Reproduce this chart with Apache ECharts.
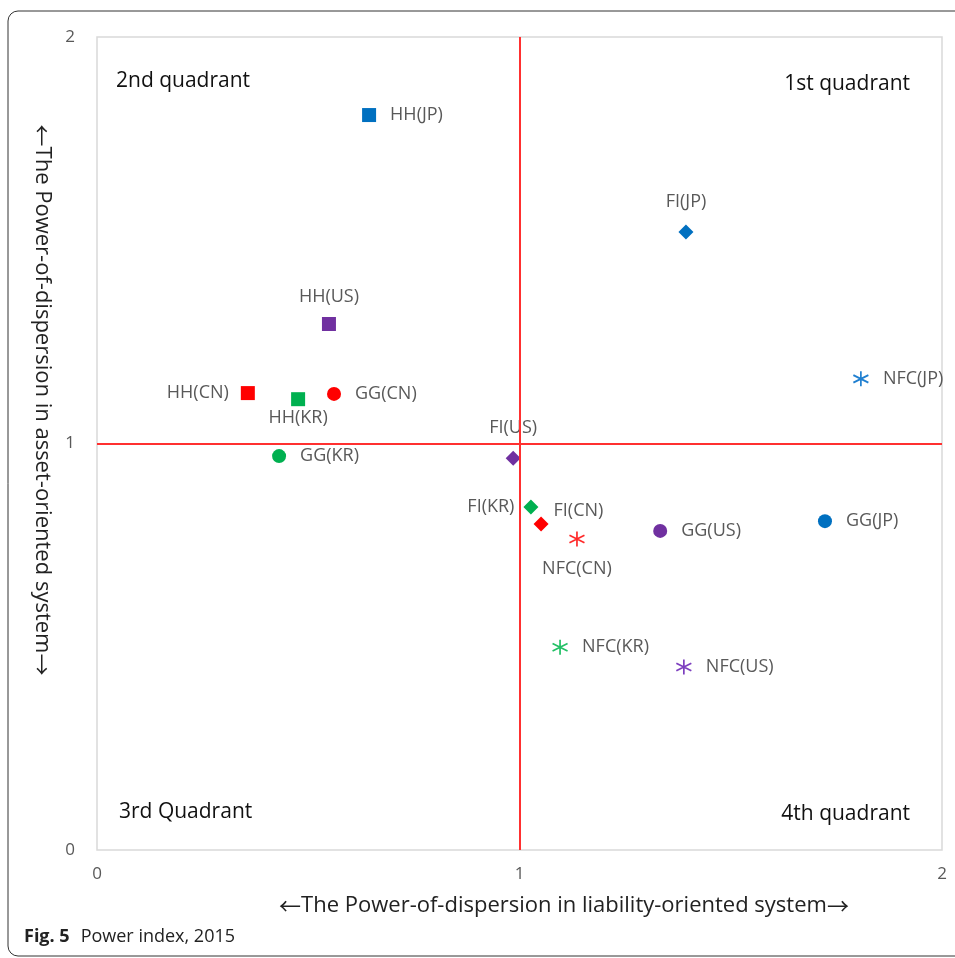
<!DOCTYPE html>
<html>
<head>
<meta charset="utf-8">
<script src="https://cdn.jsdelivr.net/npm/echarts@6/dist/echarts.min.js"></script>
<style>
html, body { margin: 0; padding: 0; background: #fff; }
#chart { width: 955px; height: 958px; }
</style>
</head>
<body>
<div id="chart"></div>
<script>
// order of every array: CN, JP, US, KR
var countries = ['CN', 'JP', 'US', 'KR'];

var hhX = [0.357, 0.644, 0.549, 0.476];
var hhY = [1.124, 1.808, 1.294, 1.109];
var ggX = [0.561, 1.723, 1.333, 0.431];
var ggY = [1.122, 0.809, 0.785, 0.969];
var fiX = [1.051, 1.394, 0.985, 1.027];
var fiY = [0.802, 1.520, 0.964, 0.844];
var nfcX = [1.136, 1.808, 1.389, 1.096];
var nfcY = [0.765, 1.159, 0.450, 0.499];

var xTicks = [0, 1, 2];
var yTicks = [0, 1, 2];

var colors = { CN: '#ff0000', JP: '#0070c0', US: '#7030a0', KR: '#00b050' };
var starColors = { CN: '#ff2a2a', JP: '#1f7fd0', US: '#7d3fbf', KR: '#22c065' };

var font = '"Open Sans", "Noto Sans", sans-serif';
var arrowFont = '"Noto Sans CJK JP", "DejaVu Sans", sans-serif';

// label placement per point (CN, JP, US, KR)
var hhPos = [
  { position: 'left', distance: 12 },
  { position: 'right', distance: 14 },
  { position: 'top', distance: 11 },
  { position: 'bottom', distance: 3 }
];
var ggPos = [
  { position: 'right', distance: 14 },
  { position: 'right', distance: 14 },
  { position: 'right', distance: 14 },
  { position: 'right', distance: 14 }
];
var fiPos = [
  { position: 'right', distance: 5, offset: [0, -13] },
  { position: 'top', distance: 14 },
  { position: 'top', distance: 14 },
  { position: 'left', distance: 9 }
];
var nfcPos = [
  { position: 'bottom', distance: 11 },
  { position: 'right', distance: 12 },
  { position: 'right', distance: 12 },
  { position: 'right', distance: 12 }
];

function makeSeries(prefix, xs, ys, pos, symbol, size, star) {
  var data = countries.map(function (c, i) {
    var item = {
      name: prefix + '(' + c + ')',
      value: [xs[i], ys[i]],
      label: pos[i]
    };
    if (star) {
      item.itemStyle = { color: 'none', borderColor: starColors[c], borderWidth: 1.7, opacity: 1 };
    } else {
      item.itemStyle = { color: colors[c], opacity: 1 };
    }
    return item;
  });
  return {
    type: 'scatter',
    name: prefix,
    symbol: symbol,
    symbolSize: size,
    data: data,
    label: {
      show: true,
      formatter: '{b}',
      color: '#595959',
      fontSize: 18,
      fontFamily: font
    }
  };
}

var series = [
  makeSeries('HH', hhX, hhY, hhPos, 'rect', 14, false),
  makeSeries('GG', ggX, ggY, ggPos, 'circle', 14, false),
  makeSeries('FI', fiX, fiY, fiPos, 'diamond', [15, 15], false),
  makeSeries('NFC', nfcX, nfcY, nfcPos, 'path://M5,0L5,10M0.7,2.5L9.3,7.5M0.7,7.5L9.3,2.5', 15, true)
];

series[0].markLine = {
  silent: true,
  symbol: 'none',
  label: { show: false },
  lineStyle: { color: '#ff3030', width: 2, type: 'solid', opacity: 1 },
  data: [{ xAxis: 1 }, { yAxis: 1 }]
};

var titleRich = {
  a: { fontFamily: arrowFont, fontSize: 22, fill: '#222' },
  t: { fontFamily: font, fontSize: 22, fill: '#222' }
};

var chart = echarts.init(document.getElementById('chart'));
chart.setOption({
  animation: false,
  backgroundColor: '#fff',
  grid: {
    left: 97, top: 37, right: 13, bottom: 108,
    show: true, borderColor: '#d9d9d9', borderWidth: 1.5
  },
  xAxis: {
    type: 'value',
    min: xTicks[0], max: xTicks[xTicks.length - 1], interval: 1,
    axisLine: { show: false },
    axisTick: { show: false },
    splitLine: { show: false },
    axisLabel: { color: '#595959', fontSize: 17, fontFamily: font, margin: 16 }
  },
  yAxis: {
    type: 'value',
    min: yTicks[0], max: yTicks[yTicks.length - 1], interval: 1,
    axisLine: { show: false },
    axisTick: { show: false },
    splitLine: { show: false },
    axisLabel: { color: '#595959', fontSize: 17, fontFamily: font, margin: 22 }
  },
  series: series,
  graphic: [
    {
      type: 'rect', silent: true, z: -1,
      shape: { x: 8, y: 11, width: 1000, height: 945, r: 10 },
      style: { fill: 'none', stroke: '#333', lineWidth: 1 }
    },
    {
      type: 'text', left: 116, top: 71,
      style: { text: '2nd quadrant', fontSize: 21, fontFamily: font, fill: '#111' }
    },
    {
      type: 'text', right: 45, top: 74,
      style: { text: '1st quadrant', fontSize: 21, fontFamily: font, fill: '#111' }
    },
    {
      type: 'text', left: 119, top: 802,
      style: { text: '3rd Quadrant', fontSize: 21, fontFamily: font, fill: '#111' }
    },
    {
      type: 'text', right: 45, top: 804,
      style: { text: '4th quadrant', fontSize: 21, fontFamily: font, fill: '#111' }
    },
    {
      type: 'text', x: 564, y: 906,
      style: {
        text: '{a|\u2190}{t|The Power-of-dispersion in liability-oriented system}{a|\u2192}',
        rich: titleRich,
        align: 'center', verticalAlign: 'middle'
      }
    },
    {
      type: 'text', x: 42, y: 400, rotation: -Math.PI / 2,
      style: {
        text: '{a|\u2190}{t|The Power-of-dispersion in asset-oriented system}{a|\u2192}',
        rich: titleRich,
        align: 'center', verticalAlign: 'middle'
      }
    },
    {
      type: 'text', left: 24, top: 928,
      style: {
        text: '{b|Fig. 5}{s| }{n|Power index, 2015}',
        rich: {
          b: { fontWeight: 'bold', fontSize: 18, fontFamily: font, fill: '#222' },
          s: { fontSize: 18, width: 11 },
          n: { fontSize: 18, fontFamily: font, fill: '#222' }
        }
      }
    }
  ]
});
</script>
</body>
</html>
